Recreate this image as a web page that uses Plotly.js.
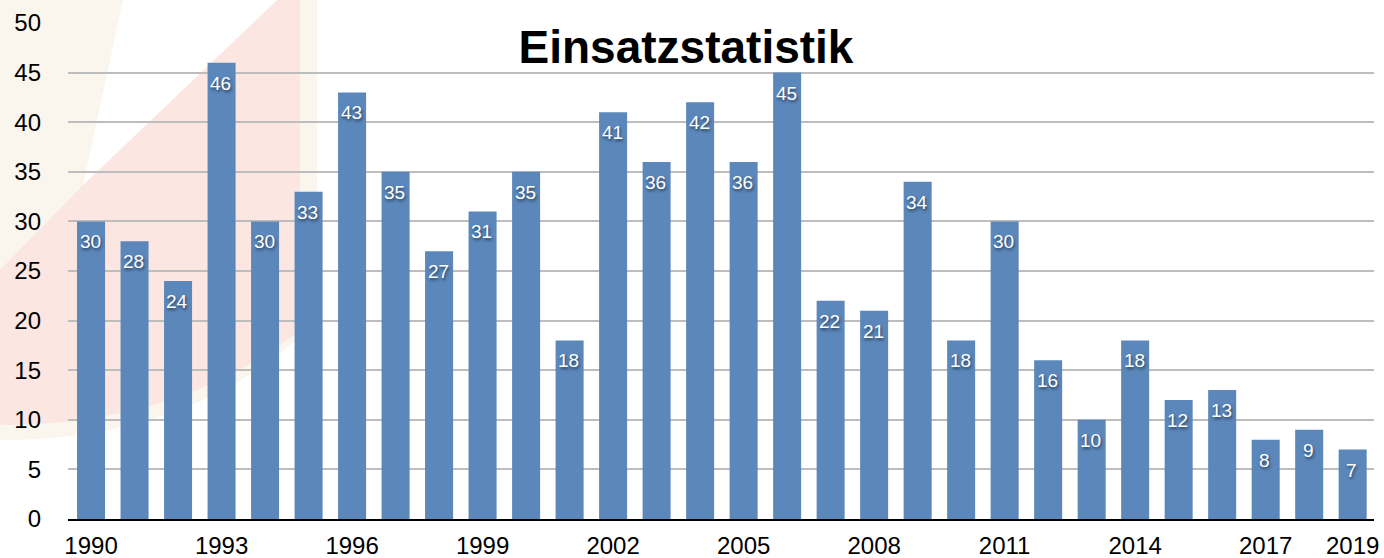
<!DOCTYPE html>
<html>
<head>
<meta charset="utf-8">
<script src="https://cdn.plot.ly/plotly-3.0.1.min.js"></script>
<style>html,body{margin:0;padding:0;background:#fff;}#chart{width:1384px;height:558px;}</style>
</head>
<body>
<div id="chart"></div>
<script>
const years = [1990,1991,1992,1993,1994,1995,1996,1997,1998,1999,2000,2001,2002,2003,2004,2005,2006,2007,2008,2009,2010,2011,2012,2013,2014,2015,2016,2017,2018,2019];
const einsaetze = [30,28,24,46,30,33,43,35,27,31,35,18,41,36,42,36,45,22,21,34,18,30,16,10,18,12,13,8,9,7];
const tickYears = [1990,1993,1996,1999,2002,2005,2008,2011,2014,2017,2019];
const tickLabels = tickYears.map(String);
const titleText = 'Einsatzstatistik';

const W = 1384, H = 558;
const mL = 68, mR = W - 1374, mT = 23, mB = H - 519;
const pw = W - mL - mR, ph = H - mT - mB;
const px = v => (v - mL) / pw;
const py = v => (H - mB - v) / ph;

const trace = {
  type: 'bar',
  x: years,
  y: einsaetze,
  marker: {color: '#5b87bb'},
  hoverinfo: 'x+y'
};

const annotations = years.map((yr, i) => ({
  x: yr, y: einsaetze[i], xref: 'x', yref: 'y',
  text: String(einsaetze[i]), showarrow: false,
  yanchor: 'top', xanchor: 'center', yshift: -8, xshift: -1,
  font: {family: 'Liberation Sans, Arial, sans-serif', size: 19, color: '#ffffff', shadow: '1px 2px 3px rgba(0,0,0,0.55)'}
}));

const shapes = [
  // beige logo background
  {type: 'path', xref: 'paper', yref: 'paper', layer: 'below',
   path: `M ${px(0)} ${py(0)} L ${px(317)} ${py(0)} L ${px(317)} ${py(320)} Q ${px(200)} ${py(440)} ${px(0)} ${py(440)} Z`,
   fillcolor: 'rgba(247,240,226,0.6)', line: {width: 0}},
  // red diagonal band
  {type: 'path', xref: 'paper', yref: 'paper', layer: 'below',
   path: `M ${px(83)} ${py(185)} L ${px(277)} ${py(0)} L ${px(300)} ${py(0)} L ${px(300)} ${py(330)} Q ${px(180)} ${py(425)} ${px(0)} ${py(425)} L ${px(0)} ${py(270)} Z`,
   fillcolor: 'rgba(252,224,220,0.75)', line: {width: 0}},
  // white wedge
  {type: 'path', xref: 'paper', yref: 'paper', layer: 'below',
   path: `M ${px(123)} ${py(0)} L ${px(277)} ${py(0)} L ${px(83)} ${py(185)} Z`,
   fillcolor: '#ffffff', line: {width: 0}}
];

const layout = {
  width: W, height: H,
  margin: {l: mL, r: mR, t: mT, b: mB, pad: 0},
  paper_bgcolor: '#ffffff',
  plot_bgcolor: 'rgba(0,0,0,0)',
  showlegend: false,
  bargap: 0.356,
  font: {family: 'Liberation Sans, Arial, sans-serif', color: '#000'},
  title: {
    text: '<b>' + titleText + '</b>',
    font: {family: 'Liberation Sans, Arial, sans-serif', size: 46, color: '#000'},
    xref: 'container', yref: 'container',
    x: 686 / W, xanchor: 'center',
    y: 1 - 47 / H, yanchor: 'middle'
  },
  xaxis: {
    range: [1989.47, 2019.49],
    tickvals: tickYears, ticktext: tickLabels,
    tickfont: {size: 24, color: '#000'},
    showgrid: false, zeroline: false,
    showline: true, linecolor: '#000', linewidth: 2,
    ticks: '', ticklabelstandoff: 4,
    fixedrange: true
  },
  yaxis: {
    range: [0, 50],
    dtick: 5, tick0: 0,
    tickfont: {size: 24, color: '#000'},
    showgrid: true, gridcolor: '#bdbdbd', gridwidth: 2,
    zeroline: false, showline: false,
    ticks: '', ticklabelstandoff: 26,
    fixedrange: true
  },
  annotations: annotations,
  shapes: shapes
};

Plotly.newPlot('chart', [trace], layout, {displayModeBar: false, staticPlot: true});
</script>
</body>
</html>
